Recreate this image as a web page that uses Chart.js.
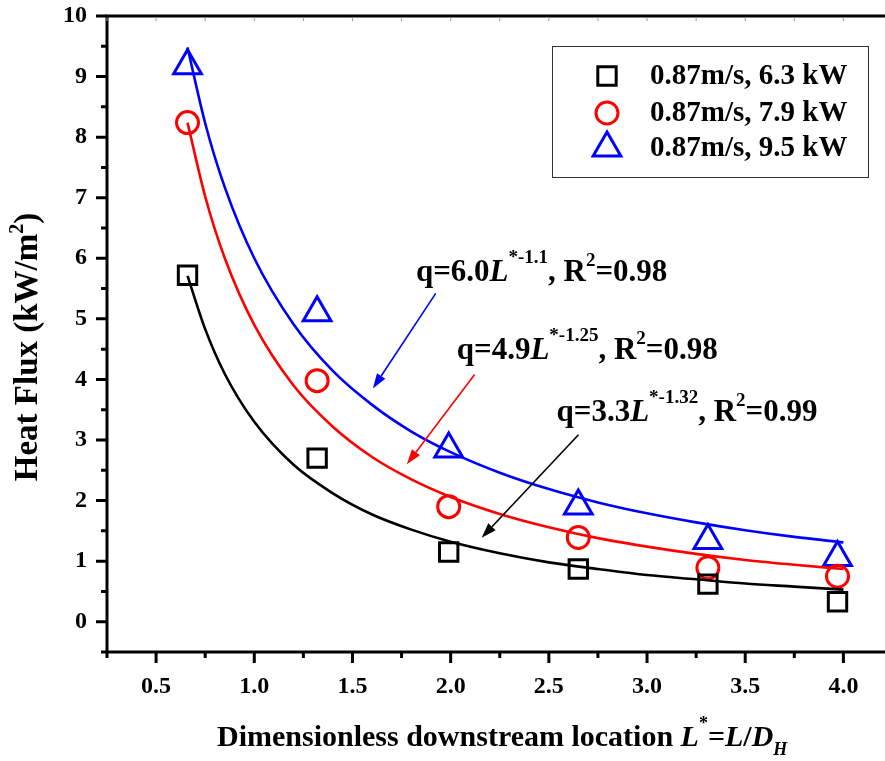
<!DOCTYPE html>
<html>
<head>
<meta charset="utf-8">
<script src="https://cdn.jsdelivr.net/npm/chart.js@4.4.0/dist/chart.umd.min.js"></script>
<style>
html, body { margin: 0; padding: 0; background: #fff; overflow: hidden; }
#wrap { width: 885px; height: 761px; overflow: hidden; }
canvas { display: block; }
</style>
</head>
<body>
<div id="wrap"><canvas id="chart" width="895" height="761"></canvas></div>
<script>
// Dane
const xTicks = [0.5, 1.0, 1.5, 2.0, 2.5, 3.0, 3.5, 4.0];
const yTicks = [0, 1, 2, 3, 4, 5, 6, 7, 8, 9, 10];

const locations = [0.66, 1.32, 1.99, 2.65, 3.31, 3.97];
const flux63 = [5.72, 2.70, 1.15, 0.87, 0.62, 0.33];
const flux79 = [8.24, 3.98, 1.90, 1.39, 0.89, 0.75];
const flux95 = [9.18, 5.10, 2.85, 1.91, 1.34, 1.06];

const fitX  = [0.66, 0.75, 0.85, 1.0, 1.2, 1.4, 1.6, 1.8, 2.0, 2.25, 2.5, 2.75, 3.0, 3.25, 3.5, 3.75, 4.0];
const fit63 = [5.71, 4.83, 4.09, 3.30, 2.59, 2.12, 1.77, 1.52, 1.32, 1.13, 0.98, 0.87, 0.77, 0.70, 0.63, 0.58, 0.53];
const fit79 = [8.24, 7.02, 6.00, 4.90, 3.90, 3.22, 2.72, 2.35, 2.06, 1.78, 1.56, 1.38, 1.24, 1.12, 1.02, 0.94, 0.87];
const fit95 = [9.48, 8.23, 7.17, 6.00, 4.91, 4.14, 3.58, 3.14, 2.80, 2.46, 2.19, 1.97, 1.79, 1.64, 1.51, 1.40, 1.31];

const seriesLabels = ['0.87m/s, 6.3 kW', '0.87m/s, 7.9 kW', '0.87m/s, 9.5 kW'];
const fitCoefs = ['3.3', '4.9', '6.0'];
const fitExps = ['-1.32', '-1.25', '-1.1'];
const fitR2 = ['0.99', '0.98', '0.98'];

const colors = ['#000000', '#ff0000', '#0000ff'];
const SERIF = '"Liberation Serif", "Times New Roman", serif';

// Pozycje opisów i strzałek (w jednostkach osi)
const fitNotes = [
    { x: 2.539, y: 3.32, from: [2.651, 3.087], to: [2.158, 1.387] },
    { x: 2.031, y: 4.34, from: [2.122, 4.08], to: [1.777, 2.60] },
    { x: 1.823, y: 5.63, from: [1.924, 5.42], to: [1.604, 3.85] }
];

const toPoints = (xs, ys) => xs.map((v, i) => ({ x: v, y: ys[i] }));

const markerStyles = [
    { pointStyle: 'rect', radius: 13 },
    { pointStyle: 'circle', radius: 11 },
    { pointStyle: 'triangle', radius: 16 }
];

function setFont(ctx, p) {
    ctx.font = (p.italic ? 'italic ' : '') + 'bold ' + p.size + 'px ' + SERIF;
}

function drawRich(ctx, parts, x, y) {
    let cx = x;
    parts.forEach(p => {
        setFont(ctx, p);
        ctx.fillText(p.t, cx, y + (p.dy || 0));
        cx += ctx.measureText(p.t).width;
    });
    return cx - x;
}

function richWidth(ctx, parts) {
    let w = 0;
    parts.forEach(p => {
        setFont(ctx, p);
        w += ctx.measureText(p.t).width;
    });
    return w;
}

function drawArrow(ctx, x1, y1, x2, y2, color) {
    const ang = Math.atan2(y2 - y1, x2 - x1);
    const len = 15, half = 5;
    const bx = x2 - Math.cos(ang) * len, by = y2 - Math.sin(ang) * len;
    ctx.strokeStyle = color;
    ctx.fillStyle = color;
    ctx.lineWidth = 1.6;
    ctx.beginPath();
    ctx.moveTo(x1, y1);
    ctx.lineTo(bx, by);
    ctx.stroke();
    ctx.beginPath();
    ctx.moveTo(x2, y2);
    ctx.lineTo(bx + Math.sin(ang) * half, by - Math.cos(ang) * half);
    ctx.lineTo(bx - Math.sin(ang) * half, by + Math.cos(ang) * half);
    ctx.closePath();
    ctx.fill();
}

const frameAndNotes = {
    id: 'frameAndNotes',
    afterDraw(chart) {
        const { ctx, chartArea: a, scales: { x, y } } = chart;
        ctx.save();

        // Ramka osi
        ctx.strokeStyle = '#000';
        ctx.lineWidth = 3;
        ctx.beginPath();
        ctx.moveTo(a.left - 1.5, a.top);
        ctx.lineTo(a.right, a.top);
        ctx.moveTo(a.left, a.top);
        ctx.lineTo(a.left, a.bottom + 1.5);
        ctx.moveTo(a.left - 1.5, a.bottom);
        ctx.lineTo(a.right, a.bottom);
        ctx.stroke();

        // Znaczniki osi X (główne i pośrednie)
        const xStep = xTicks[1] - xTicks[0];
        const xMinor = [xTicks[0] - xStep / 2].concat(xTicks.map(v => v + xStep / 2));
        ctx.lineWidth = 3;
        ctx.beginPath();
        xTicks.forEach(v => {
            const px = x.getPixelForValue(v);
            ctx.moveTo(px, a.bottom); ctx.lineTo(px, a.bottom + 11);
        });
        xMinor.forEach(v => {
            const px = x.getPixelForValue(v);
            ctx.moveTo(px, a.bottom); ctx.lineTo(px, a.bottom + 6);
        });
        // Znaczniki osi Y
        const yMinor = [yTicks[0] - 0.5].concat(yTicks.slice(0, -1).map(v => v + 0.5));
        yTicks.forEach(v => {
            const py = y.getPixelForValue(v);
            ctx.moveTo(a.left, py); ctx.lineTo(a.left - 11, py);
        });
        yMinor.forEach(v => {
            const py = y.getPixelForValue(v);
            ctx.moveTo(a.left, py); ctx.lineTo(a.left - 6, py);
        });
        ctx.stroke();

        // Górna oś - drobne znaczniki do wewnątrz
        ctx.strokeStyle = '#999';
        ctx.lineWidth = 1;
        ctx.beginPath();
        xTicks.concat(xMinor).forEach(v => {
            const px = x.getPixelForValue(v);
            ctx.moveTo(px, a.top + 1.5); ctx.lineTo(px, a.top + 5);
        });
        ctx.stroke();

        // Opisy dopasowań i strzałki
        ctx.textBaseline = 'alphabetic';
        ctx.textAlign = 'left';
        fitNotes.forEach((n, i) => {
            ctx.fillStyle = '#000';
            drawRich(ctx, [
                { t: 'q=' + fitCoefs[i], size: 31 },
                { t: 'L', size: 31, italic: true },
                { t: '*' + fitExps[i], size: 19, dy: -18 },
                { t: ', R', size: 31 },
                { t: '2', size: 19, dy: -15 },
                { t: '=' + fitR2[i], size: 31 }
            ], x.getPixelForValue(n.x), y.getPixelForValue(n.y));
            drawArrow(ctx,
                x.getPixelForValue(n.from[0]), y.getPixelForValue(n.from[1]),
                x.getPixelForValue(n.to[0]), y.getPixelForValue(n.to[1]),
                colors[i]);
        });

        // Legenda
        const lx = 552, ly = 46, lw = 316, lh = 131;
        ctx.strokeStyle = '#333';
        ctx.lineWidth = 1;
        ctx.strokeRect(lx + 0.5, ly + 0.5, lw, lh);
        const rows = [76, 113, 148];
        seriesLabels.forEach((lab, i) => {
            ctx.strokeStyle = colors[i];
            ctx.fillStyle = 'rgba(0,0,0,0)';
            ctx.lineWidth = 3;
            Chart.helpers.drawPoint(ctx, {
                pointStyle: markerStyles[i].pointStyle,
                radius: markerStyles[i].radius,
                rotation: 0,
                borderWidth: 3
            }, 607, rows[i]);
            ctx.fillStyle = '#000';
            ctx.textBaseline = 'middle';
            ctx.font = 'bold 29px ' + SERIF;
            ctx.fillText(lab, 650, rows[i] + 1);
        });

        // Tytuły osi
        ctx.textBaseline = 'alphabetic';
        ctx.fillStyle = '#000';
        const xTitle = [
            { t: 'Dimensionless downstream location ', size: 30 },
            { t: 'L', size: 30, italic: true },
            { t: '*', size: 18, dy: -17 },
            { t: '=', size: 30 },
            { t: 'L', size: 30, italic: true },
            { t: '/', size: 30 },
            { t: 'D', size: 30, italic: true },
            { t: 'H', size: 18, italic: true, dy: 9 }
        ];
        drawRich(ctx, xTitle, 217, 746);

        const yTitle = [
            { t: 'Heat Flux (kW/m', size: 33 },
            { t: '2', size: 20, dy: -14 },
            { t: ')', size: 33 }
        ];
        ctx.translate(37, 347);
        ctx.rotate(-Math.PI / 2);
        drawRich(ctx, yTitle, -richWidth(ctx, yTitle) / 2, 0);

        ctx.restore();
    }
};

const fitDataset = (ys, i) => ({
    label: 'fit ' + i,
    data: toPoints(fitX, ys),
    showLine: true,
    borderColor: colors[i],
    borderWidth: 2.6,
    pointRadius: 0,
    cubicInterpolationMode: 'monotone',
    fill: false
});

const markerDataset = (ys, i) => ({
    label: seriesLabels[i],
    data: toPoints(locations, ys),
    showLine: false,
    pointStyle: markerStyles[i].pointStyle,
    pointRadius: markerStyles[i].radius,
    pointBorderWidth: 3,
    pointBorderColor: colors[i],
    pointBackgroundColor: 'rgba(0,0,0,0)'
});

new Chart(document.getElementById('chart'), {
    type: 'scatter',
    data: {
        datasets: [
            fitDataset(fit63, 0),
            fitDataset(fit79, 1),
            fitDataset(fit95, 2),
            markerDataset(flux63, 0),
            markerDataset(flux79, 1),
            markerDataset(flux95, 2)
        ]
    },
    options: {
        responsive: false,
        devicePixelRatio: 1,
        animation: false,
        events: [],
        layout: { autoPadding: false, padding: { left: 0, top: 16, right: 2.5, bottom: 0 } },
        plugins: {
            legend: { display: false },
            tooltip: { enabled: false }
        },
        scales: {
            x: {
                type: 'linear',
                min: 0.25,
                max: 4.25,
                afterBuildTicks: s => { s.ticks = xTicks.map(v => ({ value: v })); },
                afterFit: s => {
                    s.height = 109;
                    s.paddingLeft = 0; s.paddingRight = 0;
                    s.paddingTop = 0; s.paddingBottom = 0;
                },
                grid: { display: false, drawTicks: false },
                border: { display: false },
                ticks: {
                    padding: 20,
                    color: '#000',
                    maxRotation: 0,
                    font: { family: SERIF, size: 24, weight: 'bold' },
                    callback: v => Number(v).toFixed(1)
                }
            },
            y: {
                type: 'linear',
                min: -0.5,
                max: 10,
                afterBuildTicks: s => { s.ticks = yTicks.map(v => ({ value: v })); },
                afterFit: s => {
                    s.width = 107;
                    s.paddingLeft = 0; s.paddingRight = 0;
                    s.paddingTop = 0; s.paddingBottom = 0;
                },
                grid: { display: false, drawTicks: false },
                border: { display: false },
                ticks: {
                    padding: 20,
                    color: '#000',
                    font: { family: SERIF, size: 24, weight: 'bold' },
                    callback: v => String(v)
                }
            }
        }
    },
    plugins: [frameAndNotes]
});
</script>
</body>
</html>
